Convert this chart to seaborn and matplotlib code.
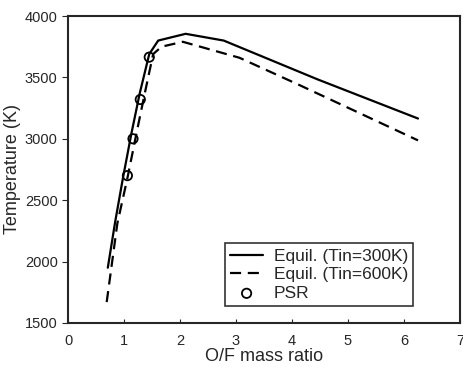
import matplotlib
matplotlib.use("Agg")
import matplotlib.pyplot as plt
import seaborn as sns
import pandas as pd

# Data
of_300 = [0.71, 0.84, 0.98, 1.13, 1.28, 1.45, 1.61, 2.10, 2.78, 4.45, 6.25]
t_300 = [1950, 2320, 2680, 3040, 3370, 3690, 3800, 3855, 3800, 3485, 3165]
of_600 = [0.69, 0.88, 1.06, 1.22, 1.37, 1.52, 1.67, 2.05, 3.06, 4.13, 6.25]
t_600 = [1670, 2310, 2680, 3040, 3370, 3690, 3750, 3790, 3660, 3438, 2987]
of_psr = [1.06, 1.16, 1.29, 1.45]
t_psr = [2700, 3000, 3320, 3665]
x_ticks = [0, 1, 2, 3, 4, 5, 6, 7]
y_ticks = [1500, 2000, 2500, 3000, 3500, 4000]

sns.set_style("ticks")
plt.rcParams['font.family'] = ['Liberation Sans', 'DejaVu Sans']

df300 = pd.DataFrame({"x": of_300, "y": t_300})
df600 = pd.DataFrame({"x": of_600, "y": t_600})
dfpsr = pd.DataFrame({"x": of_psr, "y": t_psr})

fig = plt.figure(figsize=(4.63, 3.67), dpi=100)
ax = fig.add_axes([0.147, 0.12, 0.8465, 0.8364])

sns.lineplot(data=df300, x="x", y="y", ax=ax, color="black", lw=1.6,
             sort=False, label="Equil. (Tin=300K)")
sns.lineplot(data=df600, x="x", y="y", ax=ax, color="black", lw=1.6,
             sort=False, linestyle=(0, (5, 3)), label="Equil. (Tin=600K)")
sns.scatterplot(data=dfpsr, x="x", y="y", ax=ax, marker="o", s=45,
                facecolor="none", edgecolor="black", linewidth=1.3,
                label="PSR", zorder=5)

ax.set_xlim(0, 7)
ax.set_ylim(1500, 4000)
ax.set_xticks(x_ticks)
ax.set_yticks(y_ticks)
ax.tick_params(axis="x", direction="in", length=3, labelsize=10.5, pad=8)
ax.tick_params(axis="y", direction="out", length=4, labelsize=10.5)
for s in ax.spines.values():
    s.set_linewidth(1.5)
    s.set_visible(True)
ax.set_xlabel("O/F mass ratio", fontsize=13, labelpad=0)
ax.set_ylabel("Temperature (K)", fontsize=13, labelpad=3)

leg = ax.legend(loc="lower right", bbox_to_anchor=(0.88, 0.055), fontsize=12.5,
                frameon=True, fancybox=False, edgecolor="black",
                handlelength=1.9, borderpad=0.3, labelspacing=0.2,
                handletextpad=0.6, borderaxespad=0)
leg.get_frame().set_linewidth(1.2)

fig.savefig("out.png", dpi=100)
